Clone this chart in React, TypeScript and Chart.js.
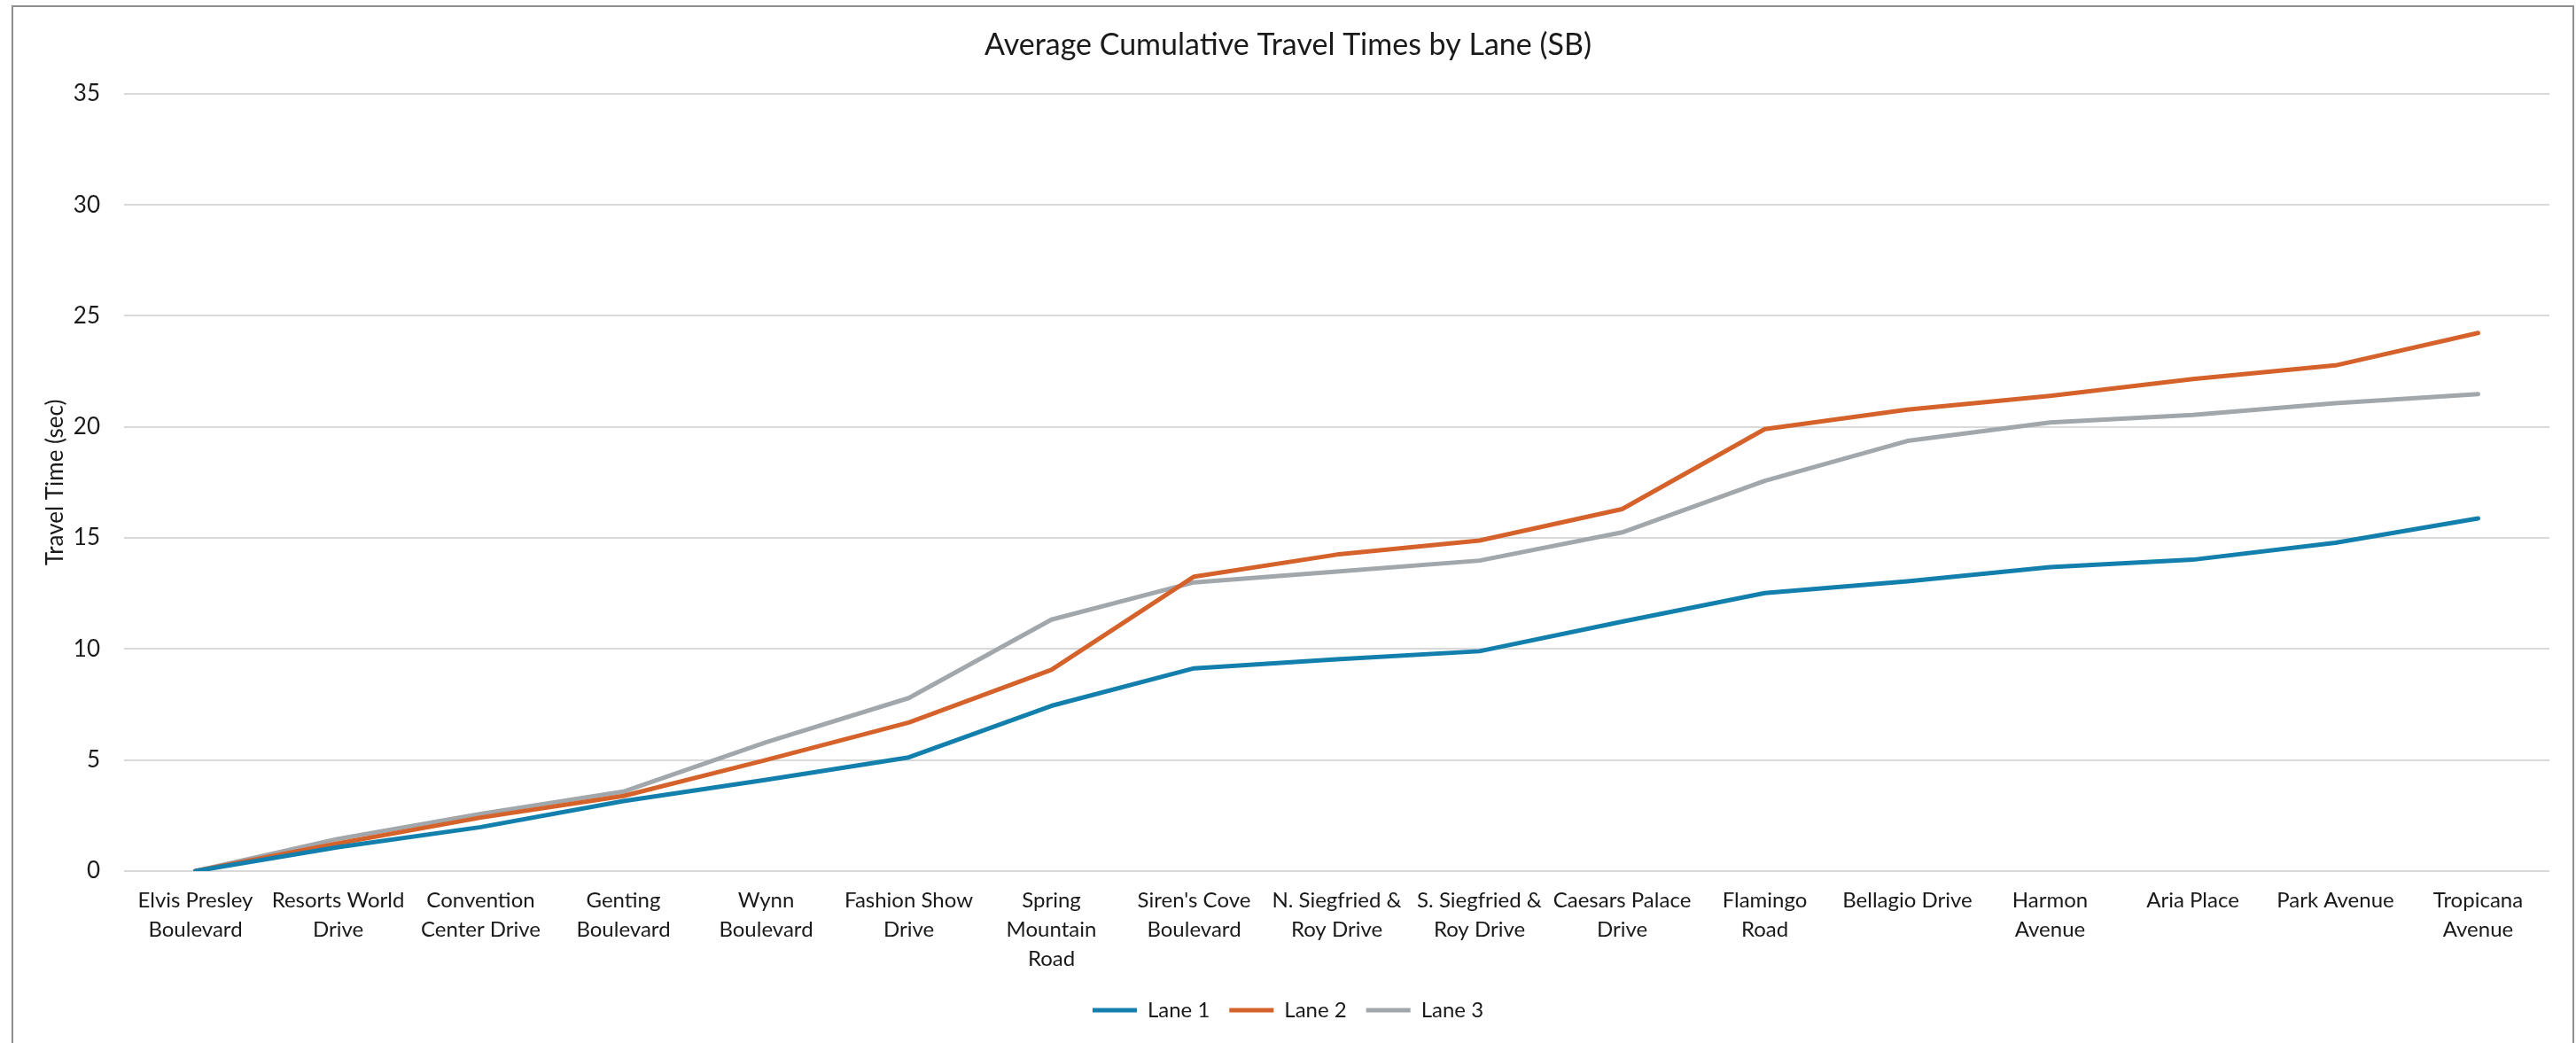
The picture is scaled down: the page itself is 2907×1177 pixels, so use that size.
import React, { useEffect, useRef } from "react";
import { Chart, registerables } from "chart.js";

Chart.register(...registerables);

const categories: string[][] = [
  ["Elvis Presley", "Boulevard"],
  ["Resorts World", "Drive"],
  ["Convention", "Center Drive"],
  ["Genting", "Boulevard"],
  ["Wynn", "Boulevard"],
  ["Fashion Show", "Drive"],
  ["Spring", "Mountain", "Road"],
  ["Siren's Cove", "Boulevard"],
  ["N. Siegfried &", "Roy Drive"],
  ["S. Siegfried &", "Roy Drive"],
  ["Caesars Palace", "Drive"],
  ["Flamingo", "Road"],
  ["Bellagio Drive"],
  ["Harmon", "Avenue"],
  ["Aria Place"],
  ["Park Avenue"],
  ["Tropicana", "Avenue"],
];

const lane1 = [0, 1.08, 1.98, 3.15, 4.11, 5.12, 7.44, 9.13, 9.54, 9.9, 11.23, 12.52, 13.05, 13.69, 14.02, 14.78, 15.88];
const lane2 = [0, 1.25, 2.41, 3.38, 5.0, 6.69, 9.06, 13.26, 14.25, 14.88, 16.3, 19.9, 20.78, 21.4, 22.15, 22.77, 24.23];
const lane3 = [0, 1.45, 2.58, 3.58, 5.8, 7.79, 11.32, 13.0, 13.49, 13.98, 15.25, 17.57, 19.37, 20.2, 20.54, 21.07, 21.48];

const seriesNames = ["Lane 1", "Lane 2", "Lane 3"];
const seriesColors = ["#137FAD", "#D5622A", "#A2A7AB"];

const yMin = 0;
const yMax = 35;
const yStep = 5;

const FONT = "Lato, 'Liberation Sans', sans-serif";

export default function App() {
  const canvasRef = useRef<HTMLCanvasElement | null>(null);

  useEffect(() => {
    const canvas = canvasRef.current;
    if (!canvas) return;
    const values = [lane1, lane2, lane3];
    const chart = new Chart(canvas, {
      type: "line",
      data: {
        labels: categories,
        datasets: values.map((v, i) => ({
          label: seriesNames[i],
          data: v,
          borderColor: seriesColors[i],
          backgroundColor: seriesColors[i],
          borderWidth: 5,
          borderCapStyle: "round" as const,
          borderJoinStyle: "round" as const,
          pointRadius: 0,
          pointHoverRadius: 0,
          tension: 0,
          fill: false,
        })),
      },
      options: {
        animation: false,
        responsive: false,
        maintainAspectRatio: false,
        layout: { padding: { left: 30, right: 30, top: 0, bottom: 15 } },
        plugins: {
          title: {
            display: true,
            text: "Average Cumulative Travel Times by Lane (SB)",
            color: "#1a1a1a",
            font: { family: FONT, size: 34, weight: "normal" },
            padding: { top: 31, bottom: 34 },
          },
          legend: {
            display: true,
            position: "bottom",
            labels: {
              usePointStyle: true,
              pointStyle: "line",
              pointStyleWidth: 50,
              color: "#1a1a1a",
              font: { family: FONT, size: 24 },
              padding: 22,
            },
          },
          tooltip: { enabled: false },
        },
        scales: {
          x: {
            offset: true,
            grid: { display: false, drawTicks: false, offset: true },
            border: { display: false },
            ticks: {
              autoSkip: false,
              maxRotation: 0,
              minRotation: 0,
              color: "#1a1a1a",
              font: { family: FONT, size: 24, lineHeight: 1.375 },
              padding: 17,
            },
            afterFit: (scale: any) => {
              scale.height = 123;
            },
          },
          y: {
            min: yMin,
            max: yMax,
            grid: { color: "#d9d9d9", lineWidth: 2, drawTicks: false },
            border: { display: false },
            ticks: {
              stepSize: yStep,
              color: "#1a1a1a",
              font: { family: FONT, size: 26 },
              padding: 27,
            },
            title: {
              display: true,
              text: "Travel Time (sec)",
              color: "#1a1a1a",
              font: { family: FONT, size: 26 },
              padding: { top: 17, bottom: 0 },
            },
            afterFit: (scale: any) => {
              scale.width = 110;
            },
          },
        },
      },
    });
    return () => chart.destroy();
  }, []);

  return (
    <div style={{ position: "absolute", left: 0, top: 0, width: 2907, height: 1177, overflow: "hidden", background: "#fff" }}>
      <canvas ref={canvasRef} width={2907} height={1177} style={{ position: "absolute", left: 0, top: 0, width: 2907, height: 1177 }} />
      <div style={{ position: "absolute", left: 13, top: 6, width: 2888, height: 1300, border: "2px solid #8e8e8e", pointerEvents: "none" }} />
    </div>
  );
}
